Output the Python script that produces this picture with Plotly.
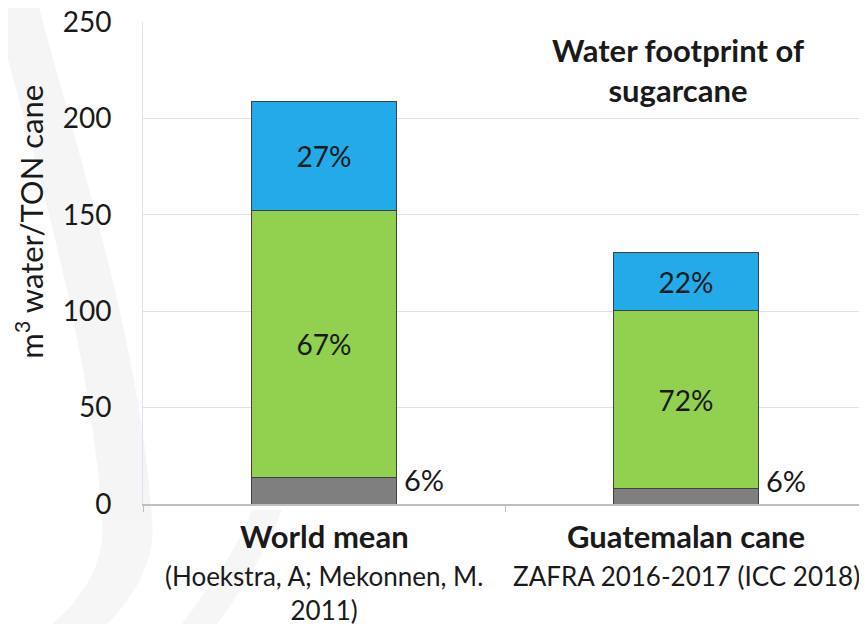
import plotly.graph_objects as go

categories = ["World mean", "Guatemalan cane"]
sources = ["(Hoekstra, A; Mekonnen, M.<br>2011)", "ZAFRA 2016-2017 (ICC 2018)"]
gray_vals = [13.5, 7.8]
green_vals = [138.5, 92.8]
blue_vals = [57.0, 29.6]
gray_pct = ["6%", "6%"]
green_pct = ["67%", "72%"]
blue_pct = ["27%", "22%"]
y_ticks = [0, 50, 100, 150, 200, 250]

FONT = "Lato"
TXT = "#1a1a1a"
line = dict(color="#404040", width=1)

# the page body has an 8px margin; plot area on screen: left 143, right 867, top 22, bottom 504
def px(x, y):
    return (x - 143) / 724.0, (504 - y) / 482.0

def band(pts_left, pts_right):
    def seg(pts):
        s = ""
        for i in range(1, len(pts), 3):
            a, b, c = px(*pts[i]), px(*pts[i + 1]), px(*pts[i + 2])
            s += f" C {a[0]:.4f},{a[1]:.4f} {b[0]:.4f},{b[1]:.4f} {c[0]:.4f},{c[1]:.4f}"
        return s
    p0 = px(*pts_left[0])
    r = list(reversed(pts_right))
    r0 = px(*r[0])
    return f"M {p0[0]:.4f},{p0[1]:.4f}" + seg(pts_left) + f" L {r0[0]:.4f},{r0[1]:.4f}" + seg(r) + " Z"

shapes = [
    dict(type="path", xref="paper", yref="paper", layer="below", line_width=0,
         fillcolor="#f5f5f5",
         path=band([(-8, 0), (32, 150), (92, 350), (102, 520)],
                   [(37, 0), (77, 150), (142, 350), (152, 520)])),
    dict(type="path", xref="paper", yref="paper", layer="below", line_width=0,
         fillcolor="#f6f6f6",
         path=band([(102, 520), (107, 560), (82, 600), (52, 624)],
                   [(152, 520), (157, 560), (132, 600), (107, 624)])),
    dict(type="path", xref="paper", yref="paper", layer="below", line_width=0,
         fillcolor="#f6f6f6",
         path=band([(182, 624), (207, 590), (237, 550), (252, 510)],
                   [(217, 624), (242, 590), (267, 550), (282, 510)])),
]

fig = go.Figure()
fig.add_bar(x=categories, y=gray_vals, marker=dict(color="#7f7f7f", line=line),
            width=0.4, hoverinfo="skip")
fig.add_bar(x=categories, y=green_vals, marker=dict(color="#92d050", line=line),
            width=0.4, text=green_pct, textposition="inside", insidetextanchor="middle",
            textfont=dict(size=28, color=TXT, family=FONT), hoverinfo="skip")
fig.add_bar(x=categories, y=blue_vals, marker=dict(color="#23aae8", line=line),
            width=0.4, text=blue_pct, textposition="inside", insidetextanchor="middle",
            textfont=dict(size=28, color=TXT, family=FONT), hoverinfo="skip")

annotations = []
gray_label_shift = [-2, 8]
for c, g, p, ys in zip(categories, gray_vals, gray_pct, gray_label_shift):
    annotations.append(dict(x=c, y=g, xref="x", yref="y", text=p, showarrow=False,
                            xanchor="left", yanchor="middle", xshift=78, yshift=ys,
                            font=dict(size=29, color=TXT, family=FONT)))
for c, s in zip(categories, sources):
    annotations.append(dict(x=c, y=0, xref="x", yref="paper", text="<b>" + c + "</b>",
                            showarrow=False, xanchor="center", yanchor="top", yshift=-11,
                            font=dict(size=31, color=TXT, family=FONT)))
    annotations.append(dict(x=c, y=0, xref="x", yref="paper", text=s,
                            showarrow=False, xanchor="center", yanchor="top", yshift=-54,
                            font=dict(size=26, color=TXT, family=FONT)))
annotations.append(dict(x=0.739, y=0.985, xref="paper", yref="paper",
                        text="<b>Water footprint of<br>sugarcane</b>", showarrow=False,
                        xanchor="center", yanchor="top", align="center",
                        font=dict(size=31, color=TXT, family=FONT)))
annotations.append(dict(x=-0.158, y=0.585, xref="paper", yref="paper",
                        text="m<sup>3</sup> water/TON cane", showarrow=False, textangle=-90,
                        xanchor="center", yanchor="middle",
                        font=dict(size=31, color=TXT, family=FONT)))

fig.update_layout(
    barmode="stack",
    width=867, height=624,
    margin=dict(l=135, r=8, t=14, b=128, autoexpand=False),
    paper_bgcolor="white", plot_bgcolor="rgba(0,0,0,0)",
    showlegend=False,
    font=dict(family=FONT, color=TXT),
    annotations=annotations,
    shapes=shapes,
    xaxis=dict(showticklabels=False, showline=True, linecolor="#bfbfbf", linewidth=1.5,
               ticks="outside", tickson="boundaries", ticklen=6, tickcolor="#bfbfbf",
               showgrid=False, range=[-0.5, 1.5], automargin=False),
    yaxis=dict(range=[0, 250], tickvals=y_ticks, showgrid=True, gridcolor="#dfe1f2",
               gridwidth=1, showline=True, linecolor="#dfe1f2", zeroline=False,
               tickfont=dict(size=28, color=TXT, family=FONT), ticks="",
               ticklabelstandoff=25, automargin=False, ticklabeloverflow="allow"),
)

fig.write_html("out.html")
